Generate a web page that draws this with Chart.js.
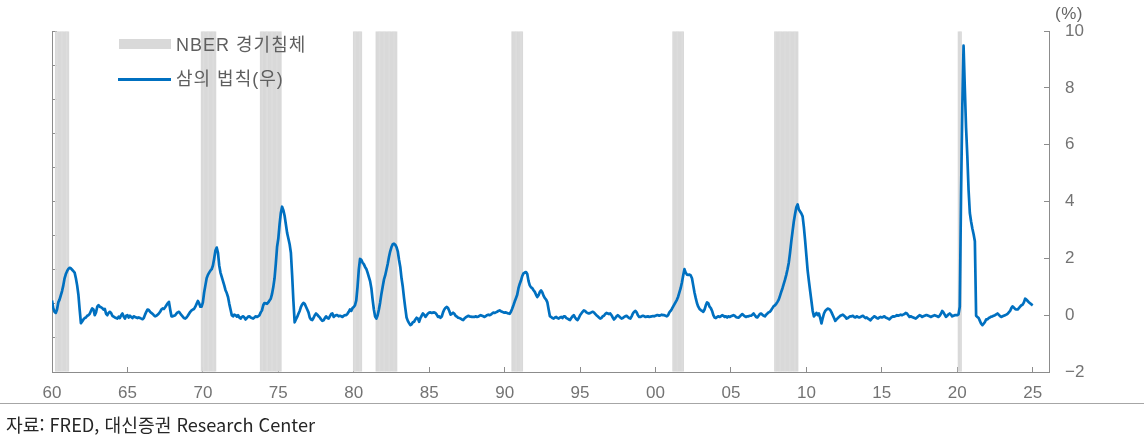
<!DOCTYPE html>
<html lang="ko">
<head>
<meta charset="utf-8">
<title>삼의 법칙과 NBER 경기침체</title>
<script src="https://cdn.jsdelivr.net/npm/chart.js@4.4.1/dist/chart.umd.min.js"></script>
<style>
  html, body { margin: 0; padding: 0; background: #fff; }
  #wrap { position: relative; width: 1144px; height: 437px; overflow: hidden;
          font-family: 'Liberation Sans', 'Noto Sans CJK KR', sans-serif; }
  #chart { position: absolute; left: 0; top: 0; }
  .swatch { position: absolute; }
  .legend-text { position: absolute; font-size: 18px; line-height: 20px; color: #5f5f5f; white-space: nowrap; letter-spacing: 1px; }
  #unit { position: absolute; left: 1055px; top: 4px; font-size: 17px; line-height: 20px; color: #666; letter-spacing: 0.5px; }
  #rule { position: absolute; left: 0; top: 403px; width: 1144px; height: 1px; background: #a6a6a6; }
  #source { position: absolute; left: 6px; top: 414px; font-size: 18px; line-height: 20px; color: #262626;
            white-space: nowrap; transform-origin: 0 50%;
            font-family: 'Noto Sans CJK KR', 'Liberation Sans', sans-serif; }
</style>
</head>
<body>
<div id="wrap">
  <canvas id="chart" width="1144" height="437"></canvas>
  <div class="swatch" style="left:119px;top:39px;width:52px;height:10px;background:#D9D9D9;"></div>
  <div class="legend-text" style="left:176px;top:35px;">NBER 경기침체</div>
  <div class="swatch" style="left:118px;top:78px;width:53px;height:3px;background:#0070C0;"></div>
  <div class="legend-text" style="left:176px;top:69px;">삼의 법칙(우)</div>
  <div id="unit">(%)</div>
  <div id="rule"></div>
  <div id="source">자료: FRED, 대신증권 Research Center</div>
</div>
<script>
// Sahm rule recession indicator, monthly, starting January 1960 (%p)
const firstMonth = '1960-01';

const sahm1960s = [
  0.52, 0.25, 0.12, 0.08, 0.20, 0.45, 0.55, 0.70, 0.85, 1.05, 1.30, 1.45,   // 1960
  1.55, 1.63, 1.67, 1.65, 1.60, 1.55, 1.50, 1.30, 1.05, 0.72, 0.20, -0.28,  // 1961
  -0.22, -0.15, -0.10, -0.08, -0.02, 0.00, 0.05, 0.15, 0.24, 0.20, 0.00, 0.10, // 1962
  0.30, 0.35, 0.30, 0.28, 0.25, 0.20, 0.22, 0.05, 0.00, 0.08, 0.12, 0.08,   // 1963
  -0.02, -0.05, -0.08, -0.10, -0.12, -0.05, -0.10, 0.00, 0.06, -0.05, -0.12, -0.02, // 1964
  0.00, -0.08, -0.02, -0.06, -0.10, -0.04, -0.06, -0.08, -0.10, -0.08, -0.10, -0.12, // 1965
  -0.14, -0.10, 0.02, 0.12, 0.20, 0.18, 0.12, 0.08, 0.05, 0.00, -0.04, -0.02, // 1966
  0.02, 0.06, 0.12, 0.20, 0.24, 0.22, 0.28, 0.35, 0.42, 0.47, 0.20, -0.04,  // 1967
  -0.04, -0.02, 0.00, 0.06, 0.10, 0.12, 0.06, 0.00, -0.05, -0.10, -0.12, -0.08, // 1968
  -0.02, 0.05, 0.12, 0.17, 0.20, 0.22, 0.30, 0.40, 0.50, 0.42, 0.30, 0.30   // 1969
];

const sahm1970s = [
  0.45, 0.80, 1.05, 1.30, 1.42, 1.50, 1.57, 1.62, 1.75, 2.00, 2.28, 2.38,   // 1970
  2.20, 1.75, 1.50, 1.35, 1.20, 1.05, 0.88, 0.78, 0.64, 0.40, 0.20, 0.00,   // 1971
  -0.04, 0.02, 0.00, -0.05, 0.00, -0.08, -0.12, -0.06, -0.04, -0.08, -0.15, -0.10, // 1972
  -0.05, -0.04, -0.08, -0.10, -0.12, -0.08, -0.04, -0.06, -0.04, 0.00, 0.10, 0.17, // 1973
  0.35, 0.43, 0.42, 0.40, 0.45, 0.52, 0.58, 0.75, 0.99, 1.30, 1.81, 2.40,   // 1974
  2.70, 3.20, 3.60, 3.82, 3.70, 3.50, 3.20, 2.90, 2.70, 2.50, 2.20, 1.40,   // 1975
  0.50, -0.25, -0.15, -0.06, 0.05, 0.15, 0.29, 0.38, 0.43, 0.40, 0.30, 0.20, // 1976
  0.10, -0.08, -0.15, -0.17, -0.10, 0.00, 0.06, 0.02, -0.04, -0.08, -0.15, -0.20, // 1977
  -0.18, -0.10, -0.04, -0.10, -0.12, -0.04, 0.04, 0.06, -0.06, -0.02, 0.00, 0.00, // 1978
  -0.04, -0.02, -0.04, -0.06, -0.02, 0.00, 0.00, 0.05, 0.12, 0.20, 0.15, 0.25 // 1979
];

const sahm1980s = [
  0.29, 0.35, 0.52, 1.00, 1.60, 1.98, 1.95, 1.85, 1.80, 1.70, 1.63, 1.50,   // 1980
  1.35, 1.20, 0.95, 0.55, 0.20, -0.05, -0.12, 0.00, 0.20, 0.45, 0.75, 1.00, // 1981
  1.25, 1.40, 1.60, 1.80, 2.05, 2.25, 2.40, 2.50, 2.52, 2.48, 2.40, 2.25,   // 1982
  1.95, 1.70, 1.30, 1.00, 0.60, 0.25, -0.08, -0.20, -0.28, -0.35, -0.32, -0.25, // 1983
  -0.23, -0.15, -0.09, -0.12, -0.23, -0.10, -0.02, 0.06, 0.02, -0.06, 0.00, 0.06, // 1984
  0.09, 0.10, 0.08, 0.09, 0.10, 0.08, 0.02, -0.06, -0.04, -0.09, -0.05, 0.10, // 1985
  0.20, 0.26, 0.29, 0.25, 0.15, 0.02, 0.05, 0.09, 0.05, -0.02, -0.05, -0.09, // 1986
  -0.10, -0.12, -0.15, -0.17, -0.12, -0.08, -0.05, -0.02, -0.04, -0.05, -0.06, -0.06, // 1987
  -0.06, -0.04, -0.06, -0.05, -0.02, 0.00, -0.02, -0.04, -0.06, -0.03, 0.00, 0.02, // 1988
  0.00, 0.02, 0.06, 0.09, 0.08, 0.10, 0.12, 0.15, 0.17, 0.14, 0.12, 0.10    // 1989
];

const sahm1990s = [
  0.09, 0.10, 0.08, 0.06, 0.05, 0.12, 0.23, 0.35, 0.48, 0.60, 0.72, 0.95,   // 1990
  1.10, 1.22, 1.38, 1.47, 1.50, 1.52, 1.45, 1.20, 1.05, 0.98, 0.95, 0.88,   // 1991
  0.82, 0.72, 0.64, 0.70, 0.82, 0.87, 0.80, 0.68, 0.60, 0.55, 0.45, 0.20,   // 1992
  -0.04, -0.06, -0.10, -0.12, -0.08, -0.06, -0.10, -0.12, -0.08, -0.06, -0.10, -0.04, // 1993
  -0.04, -0.10, -0.12, -0.15, -0.17, -0.10, -0.04, 0.00, -0.08, -0.14, -0.17, -0.10, // 1994
  0.00, 0.06, 0.12, 0.17, 0.15, 0.10, 0.08, 0.06, 0.08, 0.10, 0.12, 0.10,   // 1995
  0.05, 0.00, -0.04, -0.08, -0.12, -0.10, -0.04, -0.02, 0.04, 0.08, 0.06, 0.04, // 1996
  0.06, 0.00, -0.08, -0.15, -0.10, -0.04, 0.00, -0.04, -0.08, -0.12, -0.10, -0.06, // 1997
  -0.04, -0.02, -0.06, -0.10, -0.12, -0.04, 0.06, 0.12, 0.15, 0.10, 0.00, -0.06, // 1998
  -0.06, -0.04, -0.02, -0.04, -0.06, -0.05, -0.04, -0.06, -0.05, -0.04, -0.03, -0.04 // 1999
];

const sahm2000s = [
  -0.02, 0.00, 0.00, -0.02, 0.00, 0.02, 0.00, 0.00, -0.02, -0.04, 0.00, 0.10, // 2000
  0.15, 0.22, 0.30, 0.38, 0.46, 0.54, 0.65, 0.80, 0.95, 1.15, 1.40, 1.62,   // 2001
  1.50, 1.43, 1.42, 1.43, 1.40, 1.30, 1.05, 0.80, 0.60, 0.42, 0.30, 0.22,   // 2002
  0.18, 0.15, 0.12, 0.20, 0.35, 0.45, 0.42, 0.30, 0.25, 0.15, 0.00, -0.08,  // 2003
  -0.10, -0.06, -0.04, -0.06, -0.04, 0.00, -0.02, -0.06, -0.04, -0.08, -0.04, -0.06, // 2004
  -0.04, -0.02, 0.00, -0.02, -0.06, -0.08, -0.09, -0.05, 0.00, 0.04, 0.00, -0.04, // 2005
  -0.06, -0.04, -0.04, -0.02, -0.02, 0.02, 0.06, 0.00, -0.06, -0.08, -0.02, 0.04, // 2006
  0.06, 0.02, -0.02, -0.04, 0.02, 0.06, 0.10, 0.12, 0.18, 0.25, 0.32, 0.35, // 2007
  0.40, 0.47, 0.55, 0.68, 0.82, 0.95, 1.10, 1.25, 1.42, 1.62, 1.85, 2.20,   // 2008
  2.60, 2.95, 3.30, 3.56, 3.80, 3.90, 3.72, 3.65, 3.58, 3.48, 3.10, 2.63    // 2009
];

const sahm2010s = [
  2.10, 1.57, 1.20, 0.85, 0.50, 0.15, -0.04, 0.02, 0.08, 0.00, 0.06, -0.10, // 2010
  -0.29, -0.10, 0.06, 0.15, 0.20, 0.23, 0.22, 0.18, 0.10, 0.00, -0.10, -0.20, // 2011
  -0.15, -0.10, -0.06, -0.02, 0.00, 0.02, -0.02, -0.06, -0.12, -0.10, -0.06, -0.04, // 2012
  -0.04, -0.02, -0.06, -0.08, -0.04, -0.06, -0.08, -0.06, -0.04, -0.02, -0.06, -0.10, // 2013
  -0.08, -0.12, -0.15, -0.18, -0.12, -0.08, -0.04, -0.06, -0.10, -0.12, -0.08, -0.06, // 2014
  -0.08, -0.06, -0.04, -0.08, -0.10, -0.12, -0.15, -0.10, -0.06, -0.04, -0.05, -0.03, // 2015
  0.00, -0.02, 0.00, 0.02, 0.00, 0.02, 0.04, 0.08, 0.06, 0.00, -0.06, -0.04, // 2016
  -0.06, -0.08, -0.10, -0.12, -0.08, -0.04, 0.00, -0.02, -0.06, -0.04, -0.02, 0.00, // 2017
  0.00, -0.02, -0.04, -0.06, -0.04, -0.02, 0.00, -0.02, -0.04, -0.06, -0.02, 0.05, // 2018
  0.15, 0.10, 0.02, -0.06, -0.02, 0.03, 0.06, 0.02, -0.04, -0.02, 0.00, 0.00 // 2019
];

const sahm2020s = [
  0.00, 0.03, 0.30, 4.20, 7.30, 9.49, 8.00, 6.60, 5.60, 4.40, 3.60, 3.30,   // 2020
  3.05, 2.85, 2.60, -0.02, -0.06, -0.10, -0.20, -0.30, -0.35, -0.30, -0.24, -0.15, // 2021
  -0.15, -0.10, -0.08, -0.05, -0.04, -0.02, 0.00, 0.03, 0.06, 0.02, -0.03, -0.06, // 2022
  -0.04, -0.02, 0.00, 0.02, 0.05, 0.10, 0.15, 0.25, 0.31, 0.27, 0.22, 0.20, // 2023
  0.20, 0.25, 0.30, 0.35, 0.37, 0.45, 0.58, 0.55, 0.50, 0.45, 0.42, 0.38,   // 2024
  0.35                                                                      // 2025
];

// NBER recession periods (peak month to trough month)
const recessionStart = ['1960-04', '1969-12', '1973-11', '1980-01', '1981-07', '1990-07', '2001-03', '2007-12', '2020-02'];
const recessionEnd   = ['1961-02', '1970-11', '1975-03', '1980-07', '1982-11', '1991-03', '2001-11', '2009-06', '2020-04'];

// Year ticks on the horizontal axis
const yearTicks = [1960, 1965, 1970, 1975, 1980, 1985, 1990, 1995, 2000, 2005, 2010, 2015, 2020, 2025];

const seriesLabel = '삼의 법칙(우)';
const recessionLabel = 'NBER 경기침체';

// ---- build chart data ----
const monthIndex = ym => { const [y, m] = ym.split('-').map(Number); return y * 12 + (m - 1); };
const sahmRule = [].concat(sahm1960s, sahm1970s, sahm1980s, sahm1990s, sahm2000s, sahm2010s, sahm2020s);
const start = monthIndex(firstMonth);
const sahmPoints = sahmRule.map((v, i) => ({ x: (start + i) / 12, y: v }));

const SHADE_TOP = 10;
const recessionPoints = [];
recessionStart.forEach((s, k) => {
  for (let i = monthIndex(s); i <= monthIndex(recessionEnd[k]); i++) {
    recessionPoints.push({ x: i / 12, y: SHADE_TOP });
  }
});

const axisColor = '#8c8c8c';
const tickFont = { family: "'Liberation Sans', 'Noto Sans', sans-serif", size: 17 };

new Chart(document.getElementById('chart'), {
  type: 'bar',
  data: {
    datasets: [
      {
        type: 'line',
        label: seriesLabel,
        data: sahmPoints,
        yAxisID: 'y',
        borderColor: '#0070C0',
        borderWidth: 2.7,
        pointRadius: 0,
        tension: 0,
        borderJoinStyle: 'round',
        order: 0
      },
      {
        type: 'bar',
        label: recessionLabel,
        data: recessionPoints,
        yAxisID: 'yL',
        backgroundColor: '#D9D9D9',
        borderWidth: 0,
        barPercentage: 1.3,
        categoryPercentage: 1,
        order: 1
      }
    ]
  },
  options: {
    responsive: false,
    animation: false,
    events: [],
    layout: { padding: { top: 30, left: 0, right: 0, bottom: 0 } },
    plugins: { legend: { display: false }, tooltip: { enabled: false } },
    scales: {
      x: {
        type: 'linear',
        position: 'bottom',
        min: 1960,
        max: 2026.08,
        offset: false,
        afterBuildTicks: s => { s.ticks = yearTicks.map(v => ({ value: v })); },
        afterFit: s => { s.height = 65; },
        grid: { offset: false, drawOnChartArea: false, drawTicks: true, tickLength: -5, color: axisColor },
        border: { display: true, color: axisColor, width: 1 },
        ticks: {
          autoSkip: false, maxRotation: 0, padding: 16, color: '#737373', font: tickFont,
          callback: v => String(Math.round(v) % 100).padStart(2, '0')
        }
      },
      yL: {
        type: 'linear',
        position: 'left',
        min: 0,
        max: SHADE_TOP,
        afterFit: s => { s.width = 52; },
        grid: { drawOnChartArea: false, drawTicks: true, tickLength: -5, color: axisColor },
        border: { display: true, color: axisColor, width: 1 },
        ticks: { display: false, stepSize: 1 }
      },
      y: {
        type: 'linear',
        position: 'right',
        min: -2,
        max: 10,
        afterFit: s => { s.width = 95; },
        grid: { drawOnChartArea: false, drawTicks: true, tickLength: -5, color: axisColor },
        border: { display: true, color: axisColor, width: 1 },
        ticks: {
          stepSize: 2, padding: 21, color: '#737373', font: tickFont,
          callback: v => (v < 0 ? '\u2212' + Math.abs(v) : String(v))
        }
      }
    }
  }
});

// condensed source line
const fitSource = () => {
  const el = document.getElementById('source');
  el.style.transform = 'none';
  const w = el.getBoundingClientRect().width;
  if (w > 0) el.style.transform = 'scaleX(' + (309 / w) + ')';
};
if (document.fonts && document.fonts.ready) document.fonts.ready.then(fitSource); else fitSource();
fitSource();
</script>
</body>
</html>
